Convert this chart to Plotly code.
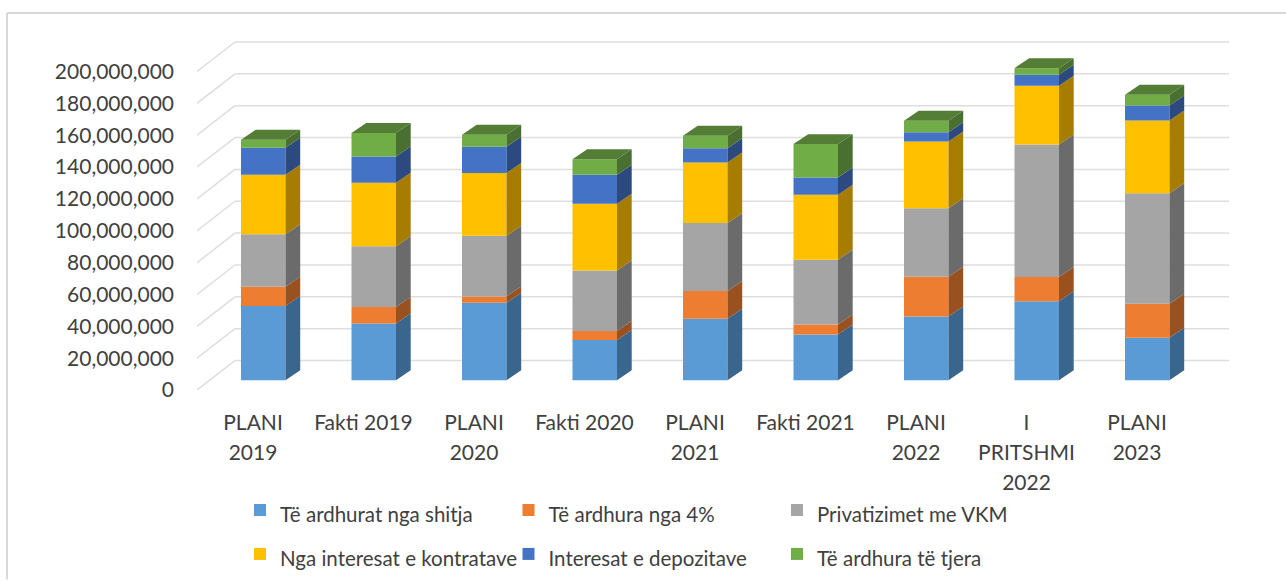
import plotly.graph_objects as go

categories = ["PLANI<br>2019", "Fakti 2019", "PLANI<br>2020", "Fakti 2020", "PLANI<br>2021",
              "Fakti 2021", "PLANI<br>2022", "I<br>PRITSHMI<br>2022", "PLANI<br>2023"]
series_names = ["Të ardhurat nga shitja", "Të ardhura nga 4%", "Privatizimet me VKM",
                "Nga interesat e kontratave", "Interesat e depozitave", "Të ardhura të tjera"]
te_ardhurat_shitja = [46.6e6, 35.7e6, 48.7e6, 25.3e6, 38.7e6, 28.7e6, 40.0e6, 49.7e6, 26.8e6]
te_ardhura_4 = [12.1e6, 10.3e6, 4.0e6, 5.7e6, 17.3e6, 6.3e6, 25.0e6, 15.1e6, 21.3e6]
privatizimet = [33.0e6, 38.2e6, 38.0e6, 38.0e6, 42.7e6, 40.7e6, 43.0e6, 83.2e6, 69.3e6]
interesat_kontratave = [37.3e6, 39.9e6, 39.5e6, 41.8e6, 38.0e6, 40.8e6, 41.9e6, 37.0e6, 45.8e6]
interesat_depozitave = [17.0e6, 16.5e6, 16.5e6, 18.2e6, 9.0e6, 10.8e6, 5.9e6, 6.9e6, 9.4e6]
te_tjera = [5.0e6, 14.7e6, 7.5e6, 9.8e6, 7.9e6, 21.0e6, 7.1e6, 4.1e6, 6.7e6]
series_values = [te_ardhurat_shitja, te_ardhura_4, privatizimet,
                 interesat_kontratave, interesat_depozitave, te_tjera]
y_ticks = list(range(0, 200_000_001, 20_000_000))

front_colors = ["#5B9BD5", "#ED7D31", "#A5A5A5", "#FFC000", "#4472C4", "#70AD47"]
side_colors = ["#3A658C", "#9A5120", "#6B6B6B", "#A67D00", "#2C4A80", "#497030"]
top_color = "#547D36"
text_color = "#404040"
grid_color = "#DEDEDE"
frame_color = "#D9D9D9"

# page geometry (pixels)
W, H = 1286, 580
PLOT_L, PLOT_R, PLOT_T, PLOT_B = 197, 1229, 40, 390.5
PITCH = 110.5
BAR_W_PX = 44.5
FIRST_BAR_CX = 263.25
PX_PER_UNIT = 1.595 / 1e6


def px_dx(p):
    return p / PITCH


def px_dy(p):
    return p / PX_PER_UNIT


x_range = [(PLOT_L - FIRST_BAR_CX) / PITCH, (PLOT_R - FIRST_BAR_CX) / PITCH]
y_range = [0, (PLOT_B - PLOT_T) / PX_PER_UNIT]

bar_half = px_dx(BAR_W_PX) / 2
bar_lift = px_dy(9.7)      # floor position of bar fronts above the front axis
side_dx, side_dy = px_dx(14.7), px_dy(10)
wall_dx, wall_dy = px_dx(38), px_dy(29.5)

xs = list(range(len(categories)))
label_shift = px_dx(-10.25)   # category labels sit on the front edge of the floor
tick_positions = [i + label_shift for i in xs]
tick_text = ["<br>".join(f'<span style="font-size:21px">{part}</span>' for part in c.split("<br>"))
             for c in categories]

fig = go.Figure()

cum = [0.0] * len(xs)
for name, vals, fc, sc in zip(series_names, series_values, front_colors, side_colors):
    lows = cum[:]
    highs = [a + b for a, b in zip(lows, vals)]
    fig.add_trace(go.Bar(
        x=xs, y=vals, base=[l + bar_lift for l in lows], width=px_dx(BAR_W_PX),
        name=f'<span style="font-size:20.5px">{name}</span>',
        marker=dict(color=fc, line=dict(width=0)), hoverinfo="skip"))
    sx, sy = [], []
    for i, lo, hi in zip(xs, lows, highs):
        r = i + bar_half
        sx += [r, r + side_dx, r + side_dx, r, r, None]
        sy += [lo + bar_lift, lo + bar_lift + side_dy, hi + bar_lift + side_dy, hi + bar_lift, lo + bar_lift, None]
    fig.add_trace(go.Scatter(x=sx, y=sy, mode="lines", fill="toself", fillcolor=sc,
                             line=dict(width=0, color=sc), showlegend=False, hoverinfo="skip"))
    cum = highs

tx, ty = [], []
for i, t in zip(xs, cum):
    l, r = i - bar_half, i + bar_half
    b = t + bar_lift
    tx += [l, r, r + side_dx, l + side_dx, l, None]
    ty += [b, b, b + side_dy, b + side_dy, b, None]
fig.add_trace(go.Scatter(x=tx, y=ty, mode="lines", fill="toself", fillcolor=top_color,
                         line=dict(width=0, color=top_color), showlegend=False, hoverinfo="skip"))

shapes = []
for v in y_ticks:
    line = dict(color=grid_color, width=1.5)
    shapes.append(dict(type="line", layer="below", xref="x", yref="y",
                       x0=x_range[0], y0=v, x1=x_range[0] + wall_dx, y1=v + wall_dy, line=line))
    shapes.append(dict(type="line", layer="below", xref="x", yref="y",
                       x0=x_range[0] + wall_dx, y0=v + wall_dy, x1=x_range[1], y1=v + wall_dy, line=line))


def paper_x(p):
    return (p - PLOT_L) / (PLOT_R - PLOT_L)


def paper_y(p):
    return (PLOT_B - p) / (PLOT_B - PLOT_T)


frame = dict(color=frame_color, width=2)
shapes.append(dict(type="line", xref="paper", yref="paper", x0=paper_x(7), y0=paper_y(13),
                   x1=paper_x(W), y1=paper_y(13), line=frame))
shapes.append(dict(type="line", xref="paper", yref="paper", x0=paper_x(7), y0=paper_y(13),
                   x1=paper_x(7), y1=paper_y(H), line=frame))

fig.update_layout(
    width=W, height=H, autosize=False,
    margin=dict(l=PLOT_L, r=W - PLOT_R, t=PLOT_T, b=H - PLOT_B, pad=0),
    paper_bgcolor="white", plot_bgcolor="rgba(0,0,0,0)",
    barmode="overlay", shapes=shapes, showlegend=True,
    font=dict(family="Lato", color=text_color, size=21),
    legend=dict(orientation="h", xref="container", yref="container",
                x=240 / W, xanchor="left", y=1 - 483 / H, yanchor="top",
                entrywidth=223.5, entrywidthmode="pixels", traceorder="normal",
                font=dict(size=31.5, family="Lato", color=text_color),
                bgcolor="rgba(0,0,0,0)"),
    xaxis=dict(range=x_range, tickmode="array", tickvals=tick_positions, ticktext=tick_text,
               showgrid=False, zeroline=False, showline=False, ticks="", tickangle=0,
               automargin=False, ticklabelstandoff=16,
               tickfont=dict(size=23, family="Lato", color=text_color)),
    yaxis=dict(range=y_range, tickmode="array", tickvals=y_ticks, tickformat=",d",
               showgrid=False, zeroline=False, showline=False, ticks="",
               automargin=False, ticklabelstandoff=22,
               tickfont=dict(size=21, family="Lato", color=text_color)),
)

fig.write_html("out.html", config={"displayModeBar": False},
               post_script="document.body.style.margin='0';document.body.style.overflow='hidden';")
